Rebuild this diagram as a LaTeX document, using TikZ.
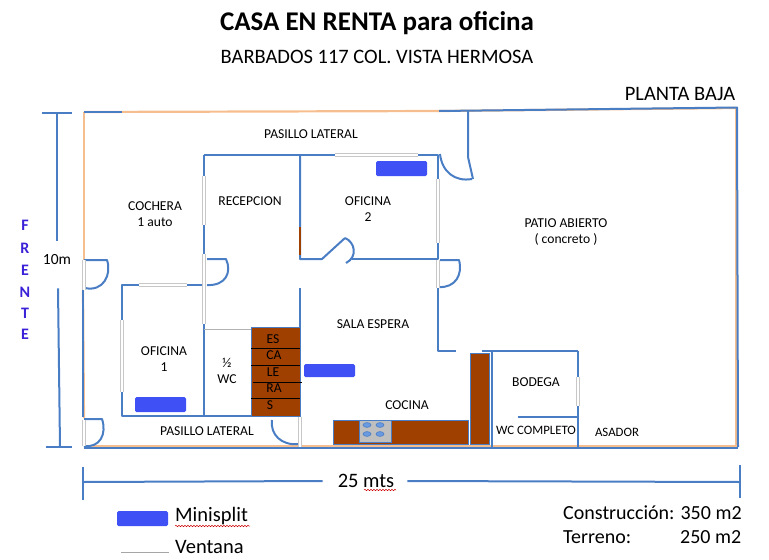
\documentclass[tikz,border=0pt]{standalone}
\usepackage{fontspec}
\setmainfont{Carlito}
\usetikzlibrary{decorations.pathmorphing}
\definecolor{wallblue}{HTML}{4A7EC4}
\definecolor{wallorange}{HTML}{F6BE8E}
\definecolor{brownfill}{HTML}{A04000}
\definecolor{splitblue}{HTML}{3F51F5}
\definecolor{frente}{HTML}{3B22D8}
\definecolor{burner}{HTML}{6A9AE0}
\tikzset{
  wall/.style={draw=wallblue,line width=2pt,line join=round},
  orangewall/.style={draw=wallorange,line width=2.2pt},
  ventana/.style={draw=white,line width=2.5pt},
  ventanab/.style={draw=black!22,line width=3.1pt},
  split/.style={fill=splitblue,draw=none,rounded corners=1.5pt},
  lab/.style={font=\fontsize{13.6}{16}\selectfont,align=center,inner sep=0pt,text=black},
  slab/.style={font=\fontsize{12.8}{15}\selectfont,align=center,inner sep=0pt,text=black},
  leg/.style={font=\fontsize{20.5}{24}\selectfont,inner sep=0pt,anchor=west,text=black},
  area/.style={font=\fontsize{20}{24}\selectfont,inner sep=0pt,anchor=west,text=black},
  brown/.style={fill=brownfill,draw=wallblue,line width=1pt},
  stair/.style={draw=black,line width=0.8pt},
  squiggle/.style={draw=red!80!black,line width=0.5pt,decorate,decoration={snake,amplitude=0.7pt,segment length=3pt}}
}
\newcommand{\winV}[3]{\draw[ventanab] (#1,#2) -- (#1,#3); \draw[ventana] (#1,#2) -- (#1,#3);}
\newcommand{\winH}[3]{\draw[ventanab] (#1,#3) -- (#2,#3); \draw[ventana] (#1,#3) -- (#2,#3);}
\begin{document}
\begin{tikzpicture}[x=1pt,y=-1pt]
\useasboundingbox (0,0) rectangle (769,560);
% titles
\node[inner sep=0pt,font=\bfseries\fontsize{27}{30}\selectfont] (title) at (377,23) {CASA EN RENTA para oficina};
\node[inner sep=0pt,font=\fontsize{20.5}{24}\selectfont] (sub) at (377,57) {BARBADOS 117 COL. VISTA HERMOSA};
\node[inner sep=0pt,font=\fontsize{20.5}{24}\selectfont] (pb) at (680,94) {PLANTA BAJA};
% outer walls
\draw[orangewall] (84,112) -- (440,111);
\draw[orangewall] (84,112) -- (84,260);
\draw[orangewall] (84,446.5) -- (738,446.5);
\draw[orangewall] (440,111) -- (737,108);
\draw[orangewall] (736,108) -- (736,446);
\draw[orangewall] (83,290) -- (84,418);
\draw[wall] (84,112) -- (122,112);
\draw[wall] (439,111) -- (737,107.5) -- (738,447);
\draw[wall] (84,448) -- (738,448);
\draw[wall] (83,290) -- (83,417);
% door top
\draw[wall] (468,110) -- (468,157) -- (473,179);
\draw[wall] (440,154) .. controls (442,172) and (455,182) .. (472,179);
% main rooms
\draw[wall] (204,155) -- (335,155);
\draw[wall] (418,155) -- (438,155) -- (438,179);
\draw[wall] (438,243) -- (438,259) -- (352,259);
\draw[wall] (204,155) -- (204,176);
\draw[wall] (204,225) -- (204,254);
\draw[wall] (300,155) -- (300,259) -- (322,259) -- (345,238);
\draw[wall] (345,238) .. controls (355,242) and (358,257) .. (346,263);
\draw[brownfill,line width=2pt] (300,227) -- (300,255);
% doors on the walls
\draw[wall] (207,259) -- (226,259) .. controls (232,272) and (226,286) .. (207,285);
\draw[wall] (84,260) -- (107,260) .. controls (112,275) and (103,292) .. (85,288);
\draw[wall] (440,260) -- (459,260) .. controls (463,275) and (455,288) .. (439,287);
% oficina 1
\draw[wall] (139,285) -- (122,285) -- (122,320);
\draw[wall] (122,392) -- (122,416) -- (300,416);
\draw[wall] (187,285) -- (204,285);
\draw[wall] (204,324) -- (204,416);
\draw[draw=black!30,line width=1pt] (204,329) -- (251,329);
\draw[wall] (300,288) -- (300,327);
% stairs
\draw[brown] (251,327) rectangle (300,416);
\draw[stair] (251,348) -- (300,348);
\draw[stair] (251,365) -- (300,365);
\draw[stair] (253,382) -- (302,382);
\draw[stair] (251,398) -- (300,398);
\node[lab] (es) at (273,339) {ES};
\node[lab] (ca) at (274,355) {CA};
\node[lab] (le) at (273,372) {LE};
\node[lab] (ra) at (274,388) {RA};
\node[lab] (s) at (270,405) {S};
% pasillo doors
\draw[wall] (84,419) -- (102,419) .. controls (107,434) and (100,448) .. (84,446);
\draw[wall] (272,420) .. controls (270,434) and (281,446) .. (299,444);
% sala espera, bodega
\draw[wall] (438,288) -- (438,351) -- (578,351);
\draw[wall] (492,351) -- (492,447);
\draw[wall] (578,351) -- (578,377);
\draw[wall] (578,406) -- (578,447);
\draw[wall] (518,417) -- (578,417);
% kitchen
\draw[brown] (470,353) rectangle (489,444);
\draw[brown] (333,420) rectangle (468,444);
\draw[fill=black!25,draw=wallblue,line width=0.8pt] (359,420) rectangle (391,442);
\foreach \px/\py in {367/425,380/425,367/434,380/434}{
  \draw[fill=burner,draw=wallblue,line width=0.6pt] (\px,\py) ellipse (4 and 2.4);
}
% windows
\winH{335}{418}{155}
\winV{204}{176}{225}
\winV{204}{254}{324}
\winH{139}{187}{285}
\winV{122}{320}{392}
\winV{84}{260}{290}
\winV{84}{420}{446}
\winV{300}{417}{447}
\winV{438}{179}{243}
\winV{438}{260}{288}
\draw[ventana] (456,351) -- (482,351);
\winV{578}{377}{406}
% minisplits
\path[split] (376,161) rectangle (427,176);
\path[split] (135,397) rectangle (186,412);
\path[split] (304,364) rectangle (355,377);
% labels
\node[lab] (pl1) at (311,134) {PASILLO LATERAL};
\node[lab] (coch) at (155,214) {COCHERA\\1 auto};
\node[lab] (rec) at (250,201) {RECEPCION};
\node[lab] (of2) at (368,209.5) {OFICINA\\2};
\node[lab] (patio) at (566,232) {PATIO ABIERTO\\( concreto )};
\node[lab] (sala) at (373,324) {SALA ESPERA};
\node[lab] (of1) at (164,359.5) {OFICINA\\1};
\node[lab] (wc) at (227,371) {½\\WC};
\node[lab] (pl2) at (207,431) {PASILLO LATERAL};
\node[lab] (coc) at (407,405) {COCINA};
\node[lab] (bod) at (536,382) {BODEGA};
\node[slab] (wcc) at (536,430) {WC COMPLETO};
\node[slab] (asa) at (617,432) {ASADOR};
% frente
\foreach \ch/\yy [count=\i] in {F/225,R/248,E/270,N/292,T/313,E/334}{
  \node[inner sep=0pt,text=frente,font=\bfseries\fontsize{16}{18}\selectfont] (fr\i) at (25,\yy) {\ch};
}
% dimensions
\coordinate (v1) at (57,113);
\coordinate (v2) at (60,447);
\node[inner sep=0pt,font=\fontsize{15.5}{18}\selectfont] (ten) at (57,260) {10m};
\draw[wall] (42,112.5) -- (72,112.5);
\draw[wall] (46,446.5) -- (72,446.5);
\draw[wall] (v1) -- ([yshift=14pt]ten.north);
\draw[wall] ([xshift=1pt,yshift=-23pt]ten.south) -- (v2);
\coordinate (h1) at (83,482);
\coordinate (h2) at (740,482);
\node[inner sep=0pt,font=\fontsize{20.5}{24}\selectfont] (mts) at (366,481) {25 mts};
\draw[wall] (83,467) -- (83,500);
\draw[wall] (740,465) -- (740,498);
\draw[wall] (h1) -- ([xshift=-15pt]mts.west);
\draw[wall] ([xshift=13pt]mts.east) -- (h2);
\draw[squiggle] (364,490) -- (396,490);
% legend
\path[split] (117,511) rectangle (168,526);
\node[leg] (ms) at (175,516) {Minisplit};
\draw[squiggle] (175,526) -- (250,526);
\draw[draw=black!35,line width=1pt] (121,552) -- (169,552);
\node[leg] (vt) at (175,547) {Ventana};
\node[area] (con) at (563,513) {Construcción: 350 m2};
\node[area] (ter) at (563,537) {Terreno:};
\node[area] (ter2) at (680,537) {250 m2};
\end{tikzpicture}
\end{document}
